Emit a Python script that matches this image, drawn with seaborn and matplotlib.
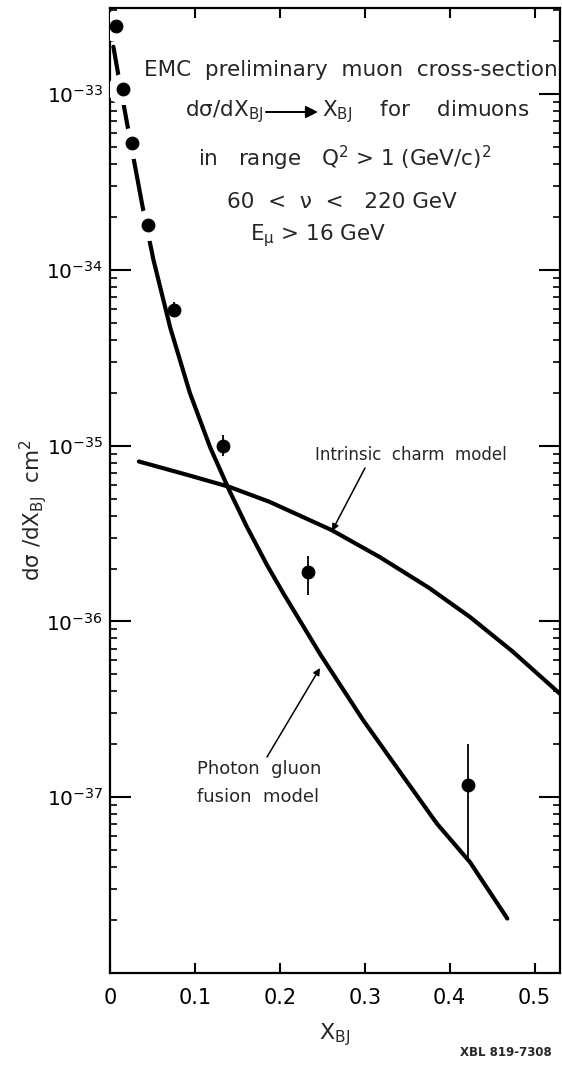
import numpy as np
import pandas as pd
import matplotlib
matplotlib.use("Agg")
import matplotlib.pyplot as plt
import matplotlib.ticker as mticker
import seaborn as sns

# EMC dimuon data: d(sigma)/dX_BJ in cm^2
x_bj = [0.007, 0.015, 0.026, 0.045, 0.075, 0.133, 0.233, 0.422]
dsigma = [2.43e-33, 1.07e-33, 5.25e-34, 1.80e-34, 5.93e-35, 9.9e-36, 1.9e-36, 1.17e-37]
dsigma_hi = [2.43e-33, 1.07e-33, 5.25e-34, 1.80e-34, 6.6e-35, 1.15e-35, 2.37e-36, 2.0e-37]
dsigma_lo = [2.43e-33, 1.07e-33, 5.25e-34, 1.80e-34, 5.4e-35, 8.7e-36, 1.41e-36, 4.4e-38]

# Photon gluon fusion model
pgf_x = [0.004, 0.012, 0.021, 0.038, 0.051, 0.071, 0.094, 0.118, 0.141,
         0.161, 0.185, 0.204, 0.248, 0.298, 0.345, 0.385, 0.424, 0.468]
pgf_y = [1.86e-33, 1.12e-33, 6.46e-34, 2.34e-34, 1.15e-34, 4.68e-35, 2.0e-35,
         9.77e-36, 5.5e-36, 3.47e-36, 2.09e-36, 1.45e-36, 6.46e-37, 2.75e-37,
         1.32e-37, 7.08e-38, 4.27e-38, 2.04e-38]

# Intrinsic charm model
ic_x = [0.034, 0.094, 0.141, 0.188, 0.261, 0.318, 0.376, 0.424, 0.474, 0.532]
ic_y = [8.13e-36, 6.76e-36, 5.82e-36, 4.79e-36, 3.31e-36, 2.32e-36, 1.55e-36,
        1.06e-36, 6.76e-37, 3.8e-37]

x_ticks = [0, 0.1, 0.2, 0.3, 0.4, 0.5]
x_tick_labels = ["0", "0.1", "0.2", "0.3", "0.4", "0.5"]
y_ticks = [1e-37, 1e-36, 1e-35, 1e-34, 1e-33]

sns.set_theme(style="ticks")
plt.rcParams["font.family"] = ["DejaVu Sans"]
plt.rcParams["mathtext.default"] = "regular"

W, H = 562, 1066
fig = plt.figure(figsize=(W / 100, H / 100), dpi=100)
fig.patch.set_facecolor("white")
ax = fig.add_axes([110 / W, 93 / H, 450 / W, 965 / H])
ax.set_facecolor("white")
ax.set_yscale("log")


def fxy(px, py):
    """Pixel position on the canvas -> figure fraction."""
    return px / W, 1 - py / H


pgf = pd.DataFrame({"x": pgf_x, "y": pgf_y})
ic = pd.DataFrame({"x": ic_x, "y": ic_y})
pts = pd.DataFrame({"x": x_bj, "y": dsigma})

sns.lineplot(data=pgf, x="x", y="y", ax=ax, color="black", lw=3,
             sort=False, estimator=None, zorder=2)
sns.lineplot(data=ic, x="x", y="y", ax=ax, color="black", lw=3,
             sort=False, estimator=None, zorder=2)

# white halo breaks the curve around the low-x points
sns.scatterplot(data=pts.iloc[:4], x="x", y="y", ax=ax, s=500, color="white",
                edgecolor="white", linewidth=0, zorder=3, legend=False)
ax.vlines(x_bj, dsigma_lo, dsigma_hi, color="black", lw=1.3, zorder=4)
sns.scatterplot(data=pts, x="x", y="y", ax=ax, s=85, color="black",
                edgecolor="black", zorder=5, legend=False)

ax.set_xlim(0, 0.53)
ax.set_ylim(1e-38, 10 ** -32.51)

ax.set_xticks(x_ticks, x_tick_labels)
ax.xaxis.set_minor_locator(mticker.NullLocator())
ax.set_yticks(y_ticks)
ax.yaxis.set_major_formatter(mticker.LogFormatterSciNotation())
ax.yaxis.set_minor_locator(mticker.LogLocator(base=10, subs=np.arange(2, 10), numticks=30))
ax.yaxis.set_minor_formatter(mticker.NullFormatter())

ax.tick_params(axis="both", which="both", direction="in", top=True, right=True,
               colors="black")
ax.tick_params(axis="x", which="major", length=7, width=1.5, labelsize=15, pad=11)
ax.tick_params(axis="y", which="major", length=15, width=1.5, labelsize=14.5, pad=5)
ax.tick_params(axis="y", which="minor", length=5, width=1.2)
for sp in ax.spines.values():
    sp.set_linewidth(1.6)
    sp.set_color("black")

ax.set_xlabel("X$_{BJ}$", fontsize=16)
ax.xaxis.set_label_coords(0.5, -0.05)
ax.set_ylabel("dσ /dX$_{BJ}$  cm$^2$", fontsize=15.5)
ax.yaxis.set_label_coords(-0.135, 0.48)

FS = 15.5
# header text block
fig.text(*fxy(558, 70), "EMC  preliminary  muon  cross-section", fontsize=FS,
         ha="right", va="center")
fig.text(*fxy(185, 112), "dσ/dX$_{BJ}$", fontsize=FS, ha="left", va="center")
ax.annotate("", xy=fxy(318, 112), xytext=fxy(266, 112), xycoords="figure fraction",
            textcoords="figure fraction",
            arrowprops=dict(arrowstyle="-|>", color="black", lw=1.4,
                            mutation_scale=18, shrinkA=0, shrinkB=0))
fig.text(*fxy(322, 112), "X$_{BJ}$    for    dimuons", fontsize=FS, ha="left", va="center")
fig.text(*fxy(345, 158), "in   range   Q$^2$ > 1 (GeV/c)$^2$", fontsize=FS,
         ha="center", va="center")
fig.text(*fxy(342, 202), "60  <  ν  <   220 GeV", fontsize=FS, ha="center", va="center")
fig.text(*fxy(318, 236), "E$_{\\mu}$ > 16 GeV", fontsize=FS, ha="center", va="center")

# model labels with pointers
fig.text(*fxy(315, 455), "Intrinsic  charm  model", fontsize=12, ha="left", va="center")
ax.annotate("", xy=fxy(332, 531), xytext=fxy(365, 468), xycoords="figure fraction",
            textcoords="figure fraction",
            arrowprops=dict(arrowstyle="-|>", color="black", lw=1.1,
                            mutation_scale=10, shrinkA=0, shrinkB=0))
fig.text(*fxy(197, 769), "Photon  gluon", fontsize=13, ha="left", va="center")
fig.text(*fxy(197, 797), "fusion  model", fontsize=13, ha="left", va="center")
ax.annotate("", xy=fxy(320, 668), xytext=fxy(267, 757), xycoords="figure fraction",
            textcoords="figure fraction",
            arrowprops=dict(arrowstyle="-|>", color="black", lw=1.1,
                            mutation_scale=10, shrinkA=0, shrinkB=0))

fig.text(*fxy(552, 1052), "XBL 819-7308", fontsize=8.5, fontweight="bold",
         ha="right", va="center")

fig.savefig("out.png", dpi=100, facecolor="white")
